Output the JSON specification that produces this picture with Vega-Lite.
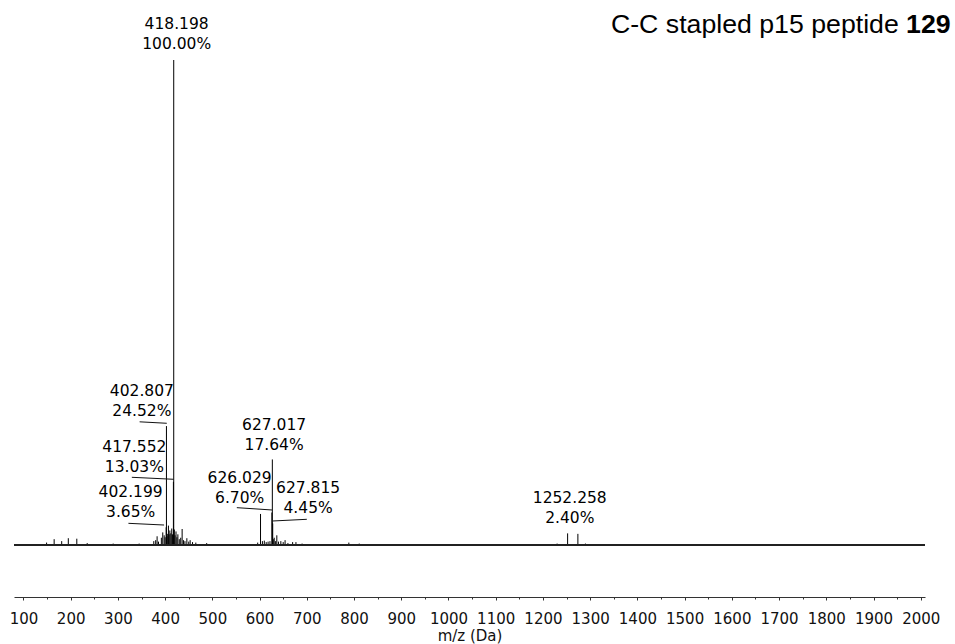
{
  "$schema": "https://vega.github.io/schema/vega-lite/v6.json",
  "width": 911,
  "height": 537,
  "autosize": {"type": "none"},
  "padding": {"left": 14, "top": 60, "right": 30, "bottom": 47},
  "background": "white",
  "config": {"view": {"stroke": null}, "axis": {"grid": false}},
  "datasets": {
    "peaks": [
      {"mz": 149, "pct": 0.5}, {"mz": 165, "pct": 1.2}, {"mz": 181, "pct": 0.8}, {"mz": 195, "pct": 1.4}, {"mz": 213, "pct": 1.3},
      {"mz": 235, "pct": 0.4}, {"mz": 290, "pct": 0.3}, {"mz": 345, "pct": 0.3},
      {"mz": 376, "pct": 0.8}, {"mz": 380, "pct": 1.0}, {"mz": 383, "pct": 1.8}, {"mz": 386, "pct": 0.7},
      {"mz": 392, "pct": 1.5}, {"mz": 395, "pct": 2.6}, {"mz": 398, "pct": 2.0}, {"mz": 400, "pct": 1.6},
      {"mz": 402.199, "pct": 3.65}, {"mz": 402.807, "pct": 24.52}, {"mz": 404, "pct": 1.8}, {"mz": 405.5, "pct": 2.3},
      {"mz": 407, "pct": 4.0}, {"mz": 408.5, "pct": 2.2}, {"mz": 410, "pct": 3.0}, {"mz": 412, "pct": 2.4},
      {"mz": 414, "pct": 3.4}, {"mz": 415.5, "pct": 2.2}, {"mz": 417.552, "pct": 13.03}, {"mz": 418.198, "pct": 100},
      {"mz": 419.5, "pct": 3.2}, {"mz": 421, "pct": 2.0}, {"mz": 423, "pct": 2.8}, {"mz": 425, "pct": 1.6},
      {"mz": 427, "pct": 2.2}, {"mz": 430, "pct": 1.2}, {"mz": 433, "pct": 1.5}, {"mz": 436, "pct": 3.3},
      {"mz": 439, "pct": 1.0}, {"mz": 442, "pct": 0.8}, {"mz": 446, "pct": 1.4}, {"mz": 450, "pct": 0.7},
      {"mz": 453, "pct": 1.0}, {"mz": 458, "pct": 0.6}, {"mz": 465, "pct": 0.5}, {"mz": 488, "pct": 0.4},
      {"mz": 596, "pct": 0.5}, {"mz": 602, "pct": 6.4}, {"mz": 606, "pct": 0.8}, {"mz": 610, "pct": 0.9},
      {"mz": 614, "pct": 0.6}, {"mz": 618, "pct": 0.7}, {"mz": 622, "pct": 0.8}, {"mz": 626.029, "pct": 6.70},
      {"mz": 627.017, "pct": 17.64}, {"mz": 627.815, "pct": 4.45}, {"mz": 629, "pct": 1.2}, {"mz": 631, "pct": 1.5},
      {"mz": 634, "pct": 0.8}, {"mz": 636.5, "pct": 2.0}, {"mz": 640, "pct": 0.7}, {"mz": 645, "pct": 0.8},
      {"mz": 650, "pct": 0.6}, {"mz": 654, "pct": 1.0}, {"mz": 660, "pct": 0.4}, {"mz": 670, "pct": 0.6},
      {"mz": 677, "pct": 0.6}, {"mz": 690, "pct": 0.3}, {"mz": 789, "pct": 0.5}, {"mz": 811, "pct": 0.3},
      {"mz": 1230, "pct": 0.3}, {"mz": 1252.258, "pct": 2.40}, {"mz": 1274, "pct": 2.3}, {"mz": 1290, "pct": 0.3}
    ],
    "labels": [
      {"text": "418.198\n100.00%", "lx": 424.4, "ly": 106.3},
      {"text": "402.807\n24.52%", "lx": 350.7, "ly": 30.7},
      {"text": "417.552\n13.03%", "lx": 334.8, "ly": 19.2},
      {"text": "402.199\n3.65%", "lx": 327, "ly": 9.9},
      {"text": "627.017\n17.64%", "lx": 630.8, "ly": 23.8},
      {"text": "626.029\n6.70%", "lx": 557.8, "ly": 12.85},
      {"text": "627.815\n4.45%", "lx": 702.8, "ly": 10.66},
      {"text": "1252.258\n2.40%", "lx": 1256.8, "ly": 8.72}
    ],
    "leaders": [
      {"sx": 346, "sy": 25.4, "ex": 403.5, "ey": 25.1},
      {"sx": 329.5, "sy": 13.96, "ex": 418.2, "ey": 13.55},
      {"sx": 322.3, "sy": 4.47, "ex": 397.8, "ey": 4.12},
      {"sx": 551.8, "sy": 7.7, "ex": 626.5, "ey": 7.22},
      {"sx": 628.0, "sy": 4.95, "ex": 700, "ey": 5.3}
    ],
    "titleparts": [
      {"t": "C-C stapled p15 peptide", "tx": 1953.5, "ty": 105.6}
    ],
    "titlebold": [
      {"t": "129", "tx": 1969, "ty": 105.6}
    ]
  },
  "resolve": {"axis": {"x": "independent"}},
  "layer": [
    {
      "data": {"name": "peaks"},
      "mark": {"type": "rule", "color": "#000", "strokeWidth": 1},
      "encoding": {
        "x": {"field": "mz", "type": "quantitative",
          "scale": {"domain": [80, 2009], "nice": false, "zero": false},
          "axis": {"orient": "bottom", "values": [100,200,300,400,500,600,700,800,900,1000,1100,1200,1300,1400,1500,1600,1700,1800,1900,2000],
            "format": "d",
            "title": "m/z (Da)", "labelFont": "DejaVu Sans", "labelFontSize": 15, "labelColor": "#111",
            "titleFont": "DejaVu Sans", "titleFontSize": 15, "titleFontWeight": "normal", "titleColor": "#111",
            "domainColor": "#333", "tickColor": "#333", "tickSize": 3, "labelPadding": 11, "titlePadding": 2,
            "labelFlush": false, "labelOverlap": false}},
        "y": {"field": "pct", "type": "quantitative", "scale": {"domain": [-10.72, 100], "nice": false, "zero": false}, "axis": null},
        "y2": {"datum": 0}
      }
    },
    {
      "data": {"name": "peaks"},
      "mark": {"type": "rule", "color": "#222", "strokeWidth": 1.5},
      "encoding": {"y": {"datum": 0}}
    },
    {
      "data": {"name": "leaders"},
      "mark": {"type": "rule", "color": "#111", "strokeWidth": 1},
      "encoding": {
        "x": {"field": "sx", "type": "quantitative",
          "axis": {"orient": "bottom", "values": [150,250,350,450,550,650,750,850,950,1050,1150,1250,1350,1450,1550,1650,1750,1850,1950],
            "labels": false, "domain": false, "title": null, "tickSize": 2, "tickColor": "#333"}},
        "y": {"field": "sy", "type": "quantitative"},
        "x2": {"field": "ex"},
        "y2": {"field": "ey"}
      }
    },
    {
      "data": {"name": "labels"},
      "mark": {"type": "text", "font": "DejaVu Sans", "fontSize": 15.5, "lineBreak": "\n", "lineHeight": 20, "align": "center", "baseline": "alphabetic", "color": "#000"},
      "encoding": {
        "x": {"field": "lx", "type": "quantitative", "axis": null},
        "y": {"field": "ly", "type": "quantitative"},
        "text": {"field": "text"}
      }
    },
    {
      "data": {"name": "titleparts"},
      "mark": {"type": "text", "font": "Liberation Sans", "fontSize": 26.7, "align": "right", "baseline": "alphabetic", "color": "#000"},
      "encoding": {
        "x": {"field": "tx", "type": "quantitative", "axis": null},
        "y": {"field": "ty", "type": "quantitative"},
        "text": {"field": "t"}
      }
    },
    {
      "data": {"name": "titlebold"},
      "mark": {"type": "text", "font": "Liberation Sans", "fontSize": 26.7, "fontWeight": "bold", "align": "left", "baseline": "alphabetic", "color": "#000"},
      "encoding": {
        "x": {"field": "tx", "type": "quantitative", "axis": null},
        "y": {"field": "ty", "type": "quantitative"},
        "text": {"field": "t"}
      }
    }
  ]
}
